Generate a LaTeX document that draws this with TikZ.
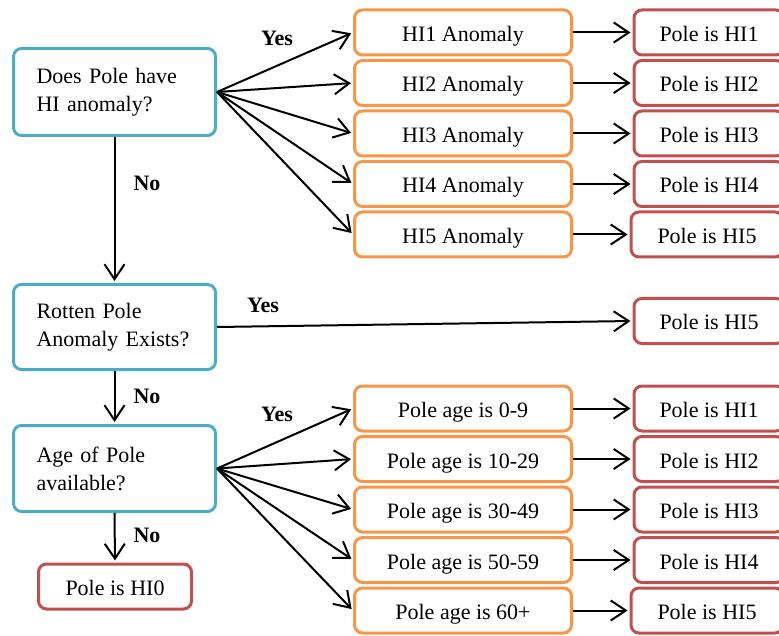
\documentclass[tikz,border=0pt]{standalone}
\usepackage{fontspec}
\setmainfont{Liberation Serif}
\usetikzlibrary{arrows.meta}
\definecolor{qblue}{HTML}{4BACC6}
\definecolor{aorange}{HTML}{F79646}
\definecolor{rred}{HTML}{C0504D}
\tikzset{
  box/.style={draw, line width=3pt, rounded corners=8pt, fill=white,
    font=\fontsize{22}{28}\selectfont, inner sep=0pt},
  question/.style={box, draw=qblue, minimum width=202pt, text width=156pt,
    align=left},
  single/.style={box, minimum height=45pt, text height=18pt, text depth=0pt},
  anomaly/.style={single, draw=aorange, minimum width=217pt},
  result/.style={single, draw=rred, minimum width=150pt},
  flow/.style={draw=black, line width=2pt,
    -{Straight Barb[length=15pt,width=20pt,line width=2pt]}, shorten >=2pt},
  answer/.style={font=\fontsize{22}{26}\selectfont\bfseries}
}
\begin{document}
\begin{tikzpicture}[x=1pt,y=1pt]
\useasboundingbox (0,0) rectangle (779,-636);
\clip (0,0) rectangle (779,-636);

% decision boxes
\node[question, minimum height=87pt] (q1) at (114.5,-92) {Does Pole have\\HI anomaly?};
\node[question, minimum height=85pt] (q2) at (114.5,-327) {Rotten Pole\\Anomaly Exists?};
\node[question, minimum height=86pt] (q3) at (114.5,-468.5) {Age of Pole\\available?};
\node[result, minimum width=153pt] (h0) at (115,-586.5) {Pole is HI0};

% anomaly branch
\foreach \i/\y in {1/32.5,2/83,3/133.5,4/184,5/234.5}{
  \node[anomaly] (a\i) at (463,-\y) {HI\i{} Anomaly};
}
\foreach \i/\y in {1/32.5,2/83,3/133.5,4/184}{
  \node[result] (ra\i) at (709,-\y) {Pole is HI\i};
}
\node[result, minimum width=152pt] (ra5) at (707,-234.5) {Pole is HI5};

% rotten pole result
\node[result] (rr) at (709,-321) {Pole is HI5};

% age branch
\node[anomaly] (g1) at (463,-408.5) {Pole age is 0-9};
\node[anomaly] (g2) at (463,-459) {Pole age is 10-29};
\node[anomaly] (g3) at (463,-509.5) {Pole age is 30-49};
\node[anomaly] (g4) at (463,-560) {Pole age is 50-59};
\node[anomaly] (g5) at (463,-610.5) {Pole age is 60+};
\foreach \i/\y in {1/408.5,2/459,3/509.5,4/560}{
  \node[result] (rg\i) at (709,-\y) {Pole is HI\i};
}
\node[result, minimum width=152pt] (rg5) at (707,-610.5) {Pole is HI5};

% connectors
\foreach \i in {1,...,5}{
  \draw[flow] (q1.east) -- (a\i.west);
  \draw[flow] (a\i.east) -- (ra\i.west);
  \draw[flow] (q3.east) -- (g\i.west);
  \draw[flow] (g\i.east) -- (rg\i.west);
}
\draw[flow] (q2.east) -- (rr.west);
\draw[flow] (q1.south) -- (q2.north);
\draw[flow] (q2.south) -- (q3.north);
\draw[flow] (q3.south) -- (h0.north);

% answer labels
\node[answer] (y1) at (277,-38) {Yes};
\node[answer] (n1) at (147,-183) {No};
\node[answer] (y2) at (263,-305) {Yes};
\node[answer] (n2) at (147,-396) {No};
\node[answer] (y3) at (277,-414) {Yes};
\node[answer] (n3) at (147,-535) {No};
\end{tikzpicture}
\end{document}
